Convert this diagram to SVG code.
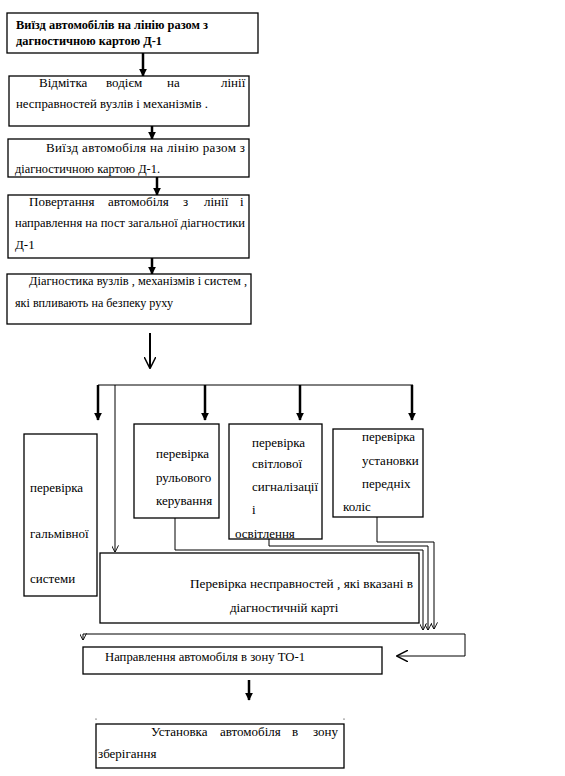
<svg xmlns="http://www.w3.org/2000/svg" width="565" height="776" viewBox="0 0 565 776">
<style>
.b{fill:#fff;stroke:#000;stroke-width:1.3}
text{font-family:'Liberation Serif','DejaVu Serif',serif;font-size:13px;fill:#000}
.tb{font-weight:bold}
.c{fill:none;stroke:#000;stroke-width:1}
.k{fill:none;stroke:#000;stroke-width:2.5}
</style>
<defs>
<marker id="fa" viewBox="0 0 10 10" refX="9" refY="5" markerWidth="8" markerHeight="8" markerUnits="userSpaceOnUse" orient="auto"><path d="M0,0 L10,5 L0,10 z" fill="#000"/></marker>
<marker id="va" viewBox="0 0 10 10" refX="9.5" refY="5" markerWidth="7" markerHeight="7" markerUnits="userSpaceOnUse" orient="auto"><path d="M0,0 L10,5 L0,10" fill="none" stroke="#000" stroke-width="1.3"/></marker>
<marker id="vb" viewBox="0 0 10 10" refX="9.5" refY="5" markerWidth="12" markerHeight="12" markerUnits="userSpaceOnUse" orient="auto"><path d="M0,0 L10,5 L0,10" fill="none" stroke="#000" stroke-width="1.2"/></marker>
</defs>
<rect width="565" height="776" fill="#fff"/>
<g id="connectors">
<line class="k" x1="143" y1="53" x2="143" y2="76" marker-end="url(#fa)"/>
<line class="k" x1="152" y1="126" x2="152" y2="139" marker-end="url(#fa)"/>
<line class="k" x1="157" y1="177" x2="157" y2="195" marker-end="url(#fa)"/>
<line class="k" x1="152" y1="258" x2="152" y2="274" marker-end="url(#fa)"/>
<line x1="150" y1="333" x2="150" y2="368" stroke="#000" stroke-width="2" marker-end="url(#vb)"/>
<path class="c" d="M98,385 H413" stroke-width="1.5"/>
<line class="k" x1="98" y1="385" x2="98" y2="420" marker-end="url(#fa)"/>
<line class="k" x1="205" y1="385" x2="205" y2="420" marker-end="url(#fa)"/>
<line class="k" x1="300" y1="385" x2="300" y2="420" marker-end="url(#fa)"/>
<line class="k" x1="412" y1="385" x2="412" y2="420" marker-end="url(#fa)"/>
<path class="c" d="M115,385 V552" marker-end="url(#va)"/>
<path class="c" d="M377,517 V542 H434 V629" marker-end="url(#va)"/>
<path class="c" d="M269,539 V546 H428 V630" marker-end="url(#va)"/>
<path class="c" d="M175,518 V550 H423 V630" marker-end="url(#va)"/>
<path class="c" d="M465,634 V656 H397" marker-end="url(#vb)"/>
<path class="c" d="M465,634 H83 V640" marker-end="url(#va)"/>
<line class="k" x1="249" y1="680" x2="249" y2="700" marker-end="url(#fa)"/>
</g>
<g id="n1"><rect class="b" x="7" y="13" width="251" height="40"/>
<text class="tb" x="16" y="29" textLength="192" lengthAdjust="spacingAndGlyphs">Виїзд автомобілів на лінію разом з</text>
<text class="tb" x="16" y="45" textLength="146" lengthAdjust="spacingAndGlyphs">дагностичною картою Д-1</text></g>
<g id="n2"><rect class="b" x="9" y="76" width="240" height="50"/>
<text y="87"><tspan x="39">Відмітка</tspan><tspan x="106">водієм</tspan><tspan x="167">на</tspan><tspan x="221">лінії</tspan></text>
<text x="16" y="108" textLength="192" lengthAdjust="spacingAndGlyphs">несправностей  вузлів і механізмів .</text></g>
<g id="n3"><rect class="b" x="8" y="139" width="241" height="38"/>
<text x="46" y="152" textLength="199" lengthAdjust="spacing">Виїзд автомобіля на лінію разом з</text>
<text x="15" y="173" textLength="145" lengthAdjust="spacingAndGlyphs">діагностичною картою Д-1.</text></g>
<g id="n4"><rect class="b" x="8" y="195" width="241" height="63"/>
<text y="206"><tspan x="29">Повертання</tspan><tspan x="108">автомобіля</tspan><tspan x="183">з</tspan><tspan x="204">лінії</tspan><tspan x="240">і</tspan></text>
<text x="15" y="227" textLength="230" lengthAdjust="spacingAndGlyphs">направлення на пост загальної діагностики</text>
<text x="15" y="249">Д-1</text></g>
<g id="n5"><rect class="b" x="7" y="274" width="244" height="50"/>
<text x="29" y="285" textLength="218" lengthAdjust="spacingAndGlyphs">Діагностика вузлів , механізмів і систем ,</text>
<text x="15" y="307" textLength="158" lengthAdjust="spacingAndGlyphs">які впливають на безпеку руху</text></g>
<g id="n6"><rect class="b" x="24" y="434" width="73" height="162"/>
<text x="30" y="492">перевірка</text>
<text x="30" y="538">гальмівної</text>
<text x="30" y="583">системи</text></g>
<g id="n7"><rect class="b" x="134" y="424" width="85" height="94"/>
<text x="156" y="458">перевірка</text>
<text x="156" y="482">рульового</text>
<text x="156" y="505">керування</text></g>
<g id="n8"><rect class="b" x="229" y="424" width="93" height="115"/>
<text x="252" y="447">перевірка</text>
<text x="252" y="468">світлової</text>
<text x="252" y="491">сигналізації</text>
<text x="252" y="514">і</text>
<text x="235" y="538">освітлення</text></g>
<g id="n9"><rect class="b" x="333" y="429" width="90" height="88"/>
<text x="362" y="441">перевірка</text>
<text x="362" y="465">установки</text>
<text x="362" y="488">передніх</text>
<text x="343" y="511">коліс</text></g>
<g id="n10"><rect class="b" x="100" y="553" width="319" height="70"/>
<text x="190" y="588" textLength="223" lengthAdjust="spacingAndGlyphs">Перевірка несправностей , які вказані в</text>
<text x="230" y="612">діагностичній карті</text></g>
<g id="n11"><rect class="b" x="83" y="647" width="299" height="27"/>
<text x="105" y="661" textLength="200" lengthAdjust="spacingAndGlyphs">Направлення автомобіля в зону ТО-1</text></g>
<g id="n12"><rect class="b" x="96" y="724" width="248" height="44"/>
<circle cx="96" cy="719" r="0.6" fill="#000"/><circle cx="344" cy="719" r="0.6" fill="#000"/>
<text y="736"><tspan x="151">Установка</tspan><tspan x="220">автомобіля</tspan><tspan x="292">в</tspan><tspan x="313">зону</tspan></text>
<text x="98" y="758">зберігання</text></g>
</svg>
